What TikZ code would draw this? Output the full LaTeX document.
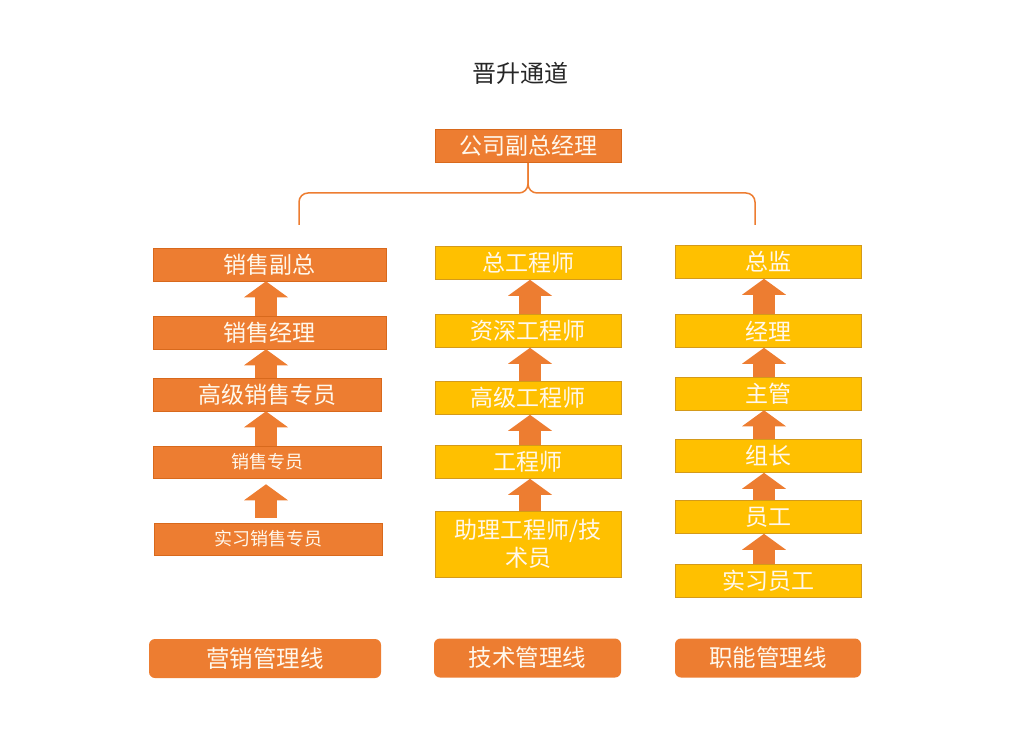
\documentclass[tikz,border=0pt]{standalone}
\usepackage{fontspec}
\setmainfont{Noto Sans CJK SC}
\usepackage{tikz}
\usetikzlibrary{arrows.meta,positioning}
\usepackage{xcolor}
\definecolor{accorange}{HTML}{ED7D31}
\definecolor{accyellow}{HTML}{FFC000}
\definecolor{orangeline}{HTML}{D8691C}
\definecolor{yellowline}{HTML}{D49A1A}
\definecolor{labeltext}{HTML}{FFF8EC}
\definecolor{titletext}{HTML}{262626}

\begin{document}
\begin{tikzpicture}[
  x=1pt, y=-1pt,
  obox/.style={rectangle, draw=orangeline, fill=accorange, line width=0.6pt,
               text=labeltext, inner sep=0pt, minimum width=233pt,
               minimum height=33pt, align=center,
               font=\fontsize{23}{28}\selectfont},
  ybox/.style={obox, draw=yellowline, fill=accyellow, minimum width=186pt},
  small/.style={font=\fontsize{18}{22}\selectfont},
  linebox/.style={rectangle, rounded corners=6pt, fill=accorange,
                  text=labeltext, inner sep=0pt, minimum height=39pt,
                  font=\fontsize{23.5}{28}\selectfont},
  uparrow/.style={line width=22pt, accorange,
                  -{Triangle[width=44pt, length=16pt, line width=0pt]}},
  brace/.style={accorange, line width=1.5pt, rounded corners=9pt}
]
\useasboundingbox (0,0) rectangle (1034,746);

\node[text=titletext, font=\fontsize{24}{28}\selectfont] (title) at (520,73) {晋升通道};
\node[obox, minimum width=186pt] (vp) at (528,146) {公司副总经理};

% brace under the vice president
\coordinate (braceL) at (299,225);
\coordinate (braceR) at (755,225);
\coordinate (braceM) at (528,193);
\draw[brace] (braceL) |- (braceM) -- (vp.south);
\draw[brace] (braceR) |- (braceM) -- (vp.south);

% sales line
\node[obox] (s1) at (269.5,264.5) {销售副总};
\node[obox] (s2) at (269.5,332.5) {销售经理};
\node[obox, minimum width=228pt] (s3) at (267,394.5) {高级销售专员};
\node[obox, small, minimum width=228pt, minimum height=32pt] (s4) at (267.5,462) {销售专员};
\node[obox, small, minimum width=228pt, minimum height=32pt] (s5) at (268,539) {实习销售专员};

% technical line
\node[ybox] (t1) at (528,263) {总工程师};
\node[ybox] (t2) at (528,331) {资深工程师};
\node[ybox] (t3) at (528,398) {高级工程师};
\node[ybox] (t4) at (528,462) {工程师};
\node[ybox, minimum height=66pt] (t5) at (528,544) {助理工程师/技\\术员};

% functional line
\node[ybox] (f1) at (768.5,262) {总监};
\node[ybox] (f2) at (768.5,331) {经理};
\node[ybox] (f3) at (768.5,393.5) {主管};
\node[ybox] (f4) at (768.5,456) {组长};
\node[ybox] (f5) at (768.5,517) {员工};
\node[ybox] (f6) at (768.5,581) {实习员工};

\draw[uparrow] (s2.north -| 266,0) -- (s1.south -| 266,0);
\draw[uparrow] (s3.north -| 266,0) -- (s2.south -| 266,0);
\draw[uparrow] (s4.north -| 266,0) -- (s3.south -| 266,0);
\draw[uparrow, shorten <=5pt, shorten >=6pt] (s5.north -| 266,0) -- (s4.south -| 266,0);

\foreach \lo/\hi in {t2/t1, t3/t2, t4/t3, t5/t4}
  \draw[uparrow] (\lo.north -| 530,0) -- (\hi.south -| 530,0);

\foreach \lo/\hi in {f2/f1, f3/f2, f4/f3, f5/f4, f6/f5}
  \draw[uparrow] (\lo.north -| 764,0) -- (\hi.south -| 764,0);

% line labels below
\node[linebox, minimum width=232pt] (salesline) at (265,658.5) {营销管理线};
\node[linebox, minimum width=187pt] (techline) at (527.5,658) {技术管理线};
\node[linebox, minimum width=186pt] (funcline) at (768,658) {职能管理线};

\end{tikzpicture}
\end{document}
